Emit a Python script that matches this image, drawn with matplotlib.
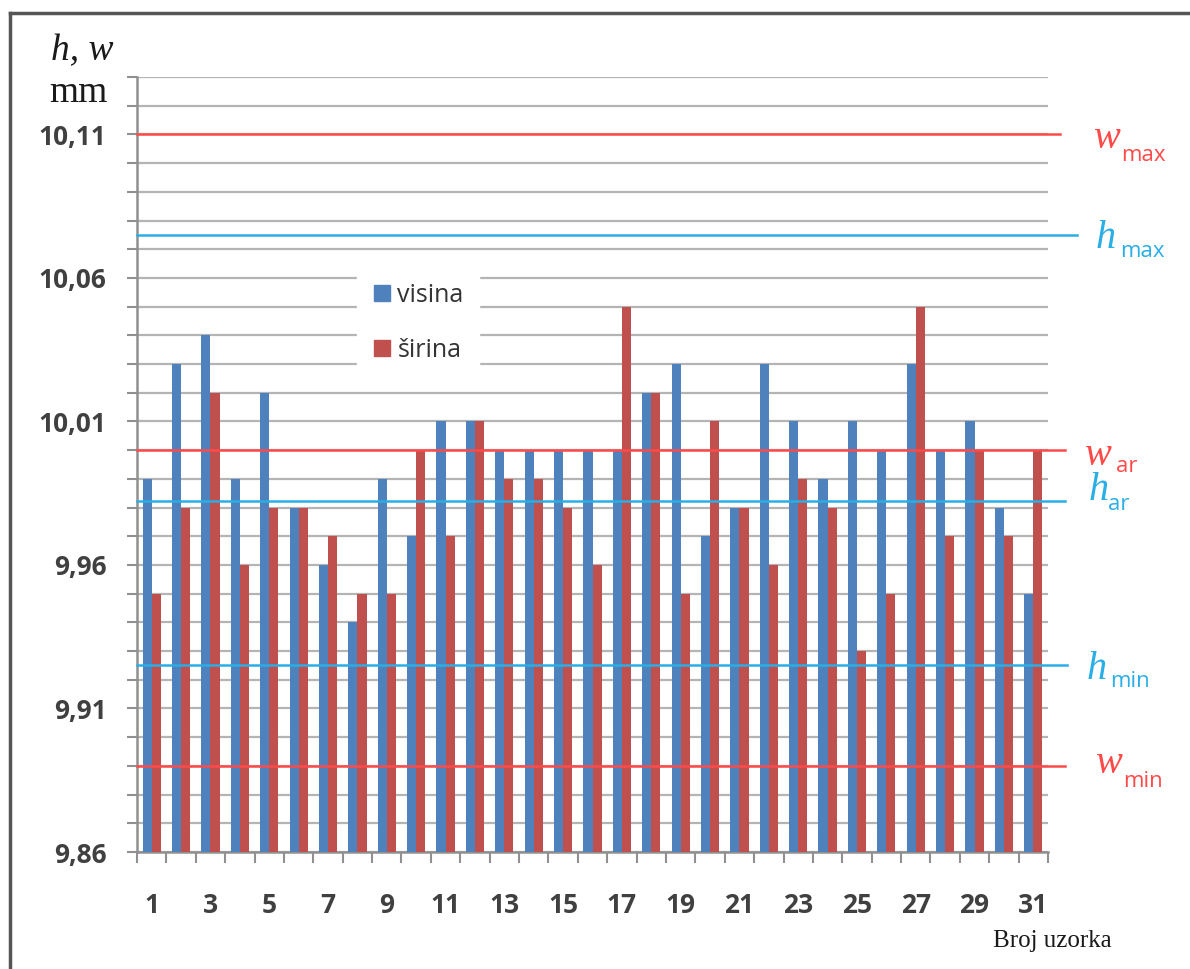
import numpy as np
import matplotlib.pyplot as plt
from matplotlib.lines import Line2D
from matplotlib.transforms import blended_transform_factory

# podaci
uzorak = np.arange(1, 32)
visina = [9.99, 10.03, 10.04, 9.99, 10.02, 9.98, 9.96, 9.94, 9.99, 9.97,
          10.01, 10.01, 10.00, 10.00, 10.00, 10.00, 10.00, 10.02, 10.03, 9.97,
          9.98, 10.03, 10.01, 9.99, 10.01, 10.00, 10.03, 10.00, 10.01, 9.98, 9.95]
sirina = [9.95, 9.98, 10.02, 9.96, 9.98, 9.98, 9.97, 9.95, 9.95, 10.00,
          9.97, 10.01, 9.99, 9.99, 9.98, 9.96, 10.05, 10.02, 9.95, 10.01,
          9.98, 9.96, 9.99, 9.98, 9.93, 9.95, 10.05, 9.97, 10.00, 9.97, 10.00]

# granice
w_lines = {"max": 10.11, "ar": 10.00, "min": 9.89}
h_lines = {"max": 10.075, "ar": 9.9824, "min": 9.925}

c_blue = "#4F81BD"
c_red = "#C0504D"
c_wline = "#FF4A4A"
c_hline = "#2AAEE6"

W, H = 1190, 969
fig = plt.figure(figsize=(W / 100, H / 100), dpi=100)
ax = fig.add_axes([137 / W, 1 - 852 / H, (1048 - 137) / W, (852 - 77) / H])

bw = 0.31
ax.bar(uzorak - bw / 2, visina, width=bw, color=c_blue, zorder=3, label="visina")
ax.bar(uzorak + bw / 2, sirina, width=bw, color=c_red, zorder=3, label="širina")

ax.set_xlim(0.5, 31.5)
ax.set_ylim(9.86, 10.13)

# mreza i oznake na osi y
yt = np.round(np.arange(9.86, 10.1301, 0.01), 2)
ax.set_yticks(yt)
ax.set_yticklabels([("%.2f" % v).replace(".", ",") if i % 5 == 0 else ""
                    for i, v in enumerate(yt)])
ax.yaxis.grid(True, color="#B4B4B4", linewidth=1.6, zorder=0)
ax.set_axisbelow(True)

# os x: crtice izmedju kategorija, brojevi neparni
ax.set_xticks(np.arange(0.5, 32, 1))
ax.set_xticklabels([])
ax.set_xticks(uzorak[::2], minor=True)
ax.set_xticklabels([str(v) for v in uzorak[::2]], minor=True)

for lab in ax.get_yticklabels() + ax.get_xticklabels(minor=True):
    lab.set_fontfamily("Open Sans")
    lab.set_fontweight("bold")
    lab.set_fontsize(19)
    lab.set_color("#404040")

ax.tick_params(axis="y", which="major", length=7, width=1.5, color="#909090", pad=15)
ax.tick_params(axis="x", which="major", length=8, width=1.5, color="#909090")
ax.tick_params(axis="x", which="minor", length=0, pad=29)

for s in ["top", "right"]:
    ax.spines[s].set_visible(False)
for s in ["left", "bottom"]:
    ax.spines[s].set_color("#909090")
    ax.spines[s].set_linewidth(1.8)

# granicne linije
tr = blended_transform_factory(ax.transAxes, ax.transData)
ext = {"max": 1.013, "ar": 1.019, "min": 1.019}
for k, v in w_lines.items():
    ax.plot([0, ext[k]], [v, v], color=c_wline, lw=1.8, transform=tr, clip_on=False, zorder=4)
ext = {"max": 1.032, "ar": 1.019, "min": 1.021}
for k, v in h_lines.items():
    ax.plot([0, ext[k]], [v, v], color=c_hline, lw=1.8, transform=tr, clip_on=False, zorder=4)

# oznake granica
def oznaka(x, y, slovo, sub, col, xs, ys):
    fig.text(x / W, 1 - y / H, slovo, family="Liberation Serif", style="italic",
             size=29, color=col, ha="left", va="baseline")
    fig.text(xs / W, 1 - ys / H, sub, family="Open Sans", size=16,
             color=col, ha="left", va="baseline")

oznaka(1093, 148, "w", "max", c_wline, 1121, 161)
oznaka(1096, 248, "h", "max", c_hline, 1120, 257)
oznaka(1084, 465, "w", "ar", c_wline, 1116, 472)
oznaka(1089, 500, "h", "ar", c_hline, 1108, 510)
oznaka(1087, 679, "h", "min", c_hline, 1110, 687)
oznaka(1095, 773, "w", "min", c_wline, 1123, 787)

# naslovi osa
fig.text(82 / W, 1 - 60 / H, "h, w", family="Liberation Serif", style="italic",
         size=27, color="#1a1a1a", ha="center", va="baseline")
fig.text(79 / W, 1 - 102 / H, "mm", family="Liberation Serif",
         size=27, color="#1a1a1a", ha="center", va="baseline")
fig.text(1052 / W, 1 - 947 / H, "Broj uzorka", family="Liberation Serif",
         size=18, color="#1a1a1a", ha="center", va="baseline")

# legenda
handles = [Line2D([], [], marker="s", ls="none", ms=12, color=c_blue),
           Line2D([], [], marker="s", ls="none", ms=12, color=c_red)]
leg = fig.legend(handles, ["visina", "širina"], loc="center",
                 bbox_to_anchor=(418 / W, 1 - 323 / H), frameon=True,
                 prop=dict(family="Open Sans", size=18), labelspacing=1.2,
                 handletextpad=0.2, borderpad=0.6, handlelength=0.8)
leg.get_frame().set_facecolor("white")
leg.get_frame().set_edgecolor("white")
leg.get_frame().set_alpha(1)
for t in leg.get_texts():
    t.set_color("#333333")

# okvir
fig.add_artist(Line2D([10 / W, 10 / W], [0, 1 - 13 / H], color="#555555", lw=2.5))
fig.add_artist(Line2D([10 / W, 1], [1 - 13 / H, 1 - 13 / H], color="#555555", lw=2.5))

fig.savefig("out.png", dpi=100)
